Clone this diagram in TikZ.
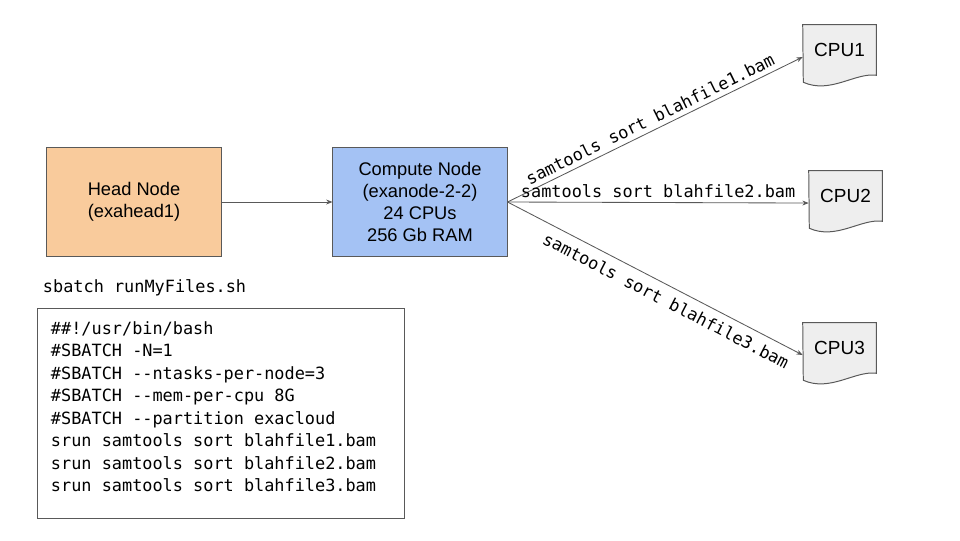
\documentclass[tikz,border=0pt]{standalone}
\usepackage{fontspec}
\setmainfont{Liberation Sans}
\setmonofont{DejaVu Sans Mono}
\usetikzlibrary{arrows.meta,backgrounds}
\definecolor{headfill}{HTML}{F9CB9C}
\definecolor{computefill}{HTML}{A4C2F4}
\definecolor{cpufill}{HTML}{EEEEEE}
\definecolor{edgegray}{HTML}{595959}
\tikzset{
	box/.style={draw=edgegray, line width=0.7pt, minimum width=4.35cm, minimum height=2.7cm, align=center, font=\fontsize{13}{15.6}\selectfont},
	headbox/.style={box, fill=headfill},
	computebox/.style={box, fill=computefill},
	cpubox/.style={minimum width=1.825cm, minimum height=1.25cm, inner sep=0pt, font=\fontsize{13.5}{16}\selectfont},
	docline/.style={draw=edgegray, fill=cpufill, line width=0.7pt},
	flow/.style={draw=edgegray, line width=0.6pt, -{Stealth[length=4.5pt,width=3.5pt]}},
	cmd/.style={font=\ttfamily\fontsize{12}{16}\selectfont},
	codebox/.style={cmd, draw=edgegray, line width=0.7pt, anchor=north west, align=left, text width=8.5cm, minimum width=9.175cm, minimum height=5.25cm, inner xsep=9pt, inner ysep=2pt}
}
\begin{document}
\begin{tikzpicture}[x=0.025cm, y=-0.025cm]
	\useasboundingbox (0,0) rectangle (960,540);
	%nodes
	\node[headbox] (head) at (134,202) {Head Node\\(exahead1)};
	\node[computebox] (compute) at (420,202) {Compute Node\\(exanode-2-2)\\24 CPUs\\256 Gb RAM};
	\node[cpubox] (cpu1) at (839.5,50) {CPU1};
	\node[cpubox] (cpu2) at (845.5,196) {CPU2};
	\node[cpubox] (cpu3) at (839.5,348) {CPU3};
	
	%document outlines behind the cpu labels
	\begin{scope}[on background layer]
		\foreach \c in {cpu1, cpu2, cpu3}{
			\draw[docline] (\c.north west) -- (\c.north east) -- (\c.south east)
				.. controls +(-21,-3) and +(27,12) .. ++(-73,7) -- cycle;
		}
	\end{scope}
	
	%connectors
	\draw[flow] (compute.east) -- node[cmd, sloped, above, midway] {samtools sort blahfile1.bam} ([yshift=-5pt]cpu1.west);
	\draw[flow] (head) -- (compute);
	\draw[flow] (compute.east) -- node[cmd, above, midway] {samtools sort blahfile2.bam} ([yshift=-5pt]cpu2.west);
	\draw[flow] (compute.east) -- node[cmd, sloped, below=2pt, pos=0.56] {samtools sort blahfile3.bam} ([yshift=-5pt]cpu3.west);
	
	%batch script
	\node[cmd, anchor=west] (call) at (38,288) {sbatch runMyFiles.sh};
	\node[codebox] (script) at (37,308) {\spaceskip=0pt\xspaceskip=0pt\relax
		\#\#!/usr/bin/bash\\
		\#SBATCH -N=1\\
		\#SBATCH --ntasks-per-node=3\\
		\#SBATCH --mem-per-cpu 8G\\
		\#SBATCH --partition exacloud\\
		srun samtools sort blahfile1.bam\\
		srun samtools sort blahfile2.bam\\
		srun samtools sort blahfile3.bam\\[-6pt]
		\mbox{}};
\end{tikzpicture}
\end{document}
